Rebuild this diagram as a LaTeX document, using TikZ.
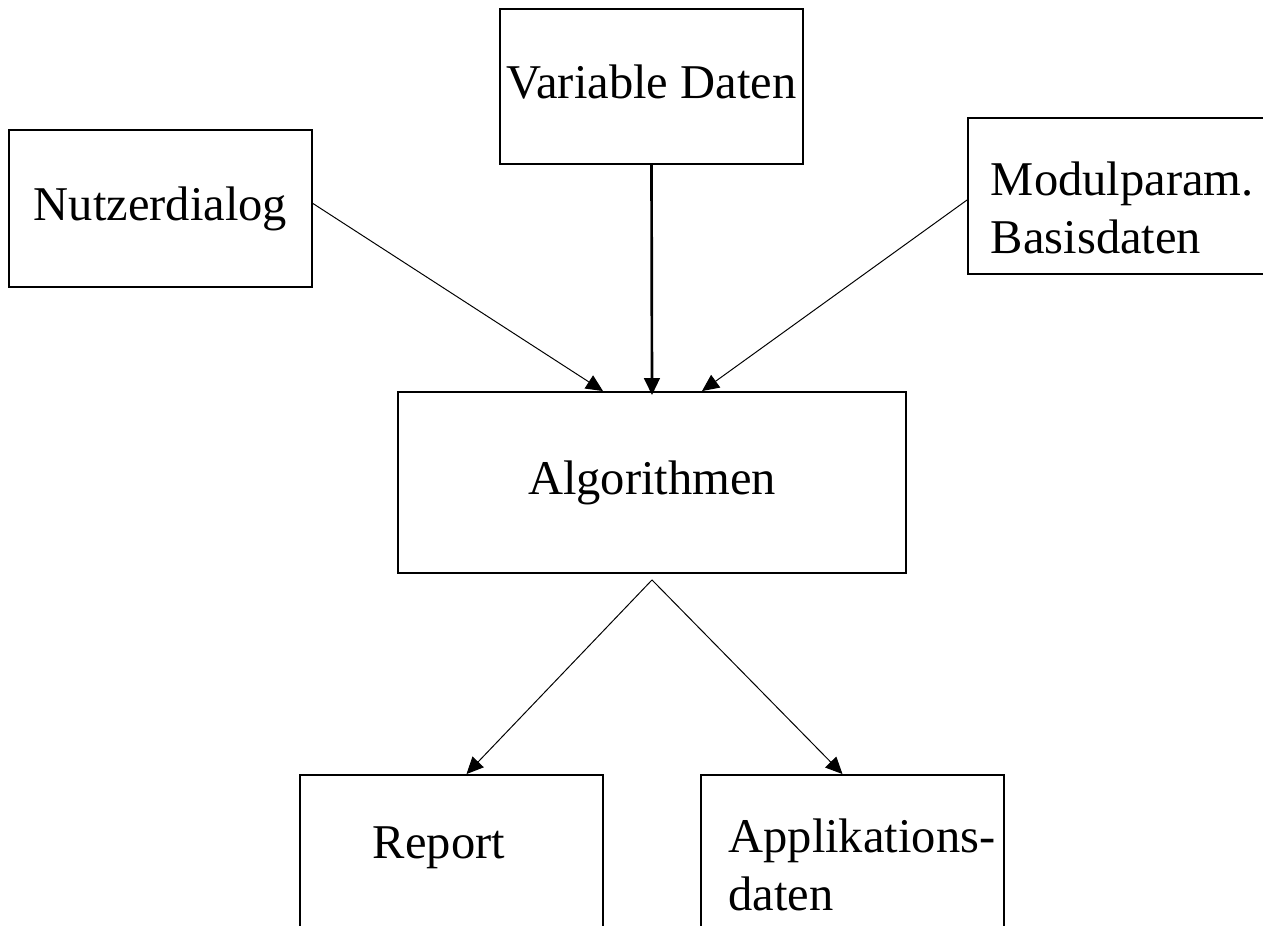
\documentclass[tikz,border=0pt]{standalone}
\usepackage{fontspec}
\setmainfont{Liberation Serif}
\usetikzlibrary{arrows.meta,calc}

\begin{document}
\begin{tikzpicture}[x=0.025cm,y=-0.025cm,
	box/.style={draw,line width=1.3pt,inner sep=0pt,minimum width=7.575cm,
		font=\fontsize{34.5}{41.3}\selectfont,text height=24pt,text depth=7.6pt},
	twoline/.style={box,align=left},
	flow/.style={-{Triangle[length=12pt,width=11pt]},line width=0.7pt},
	mainflow/.style={flow,line width=1.9pt}]
	\path[use as bounding box,clip] (0,0) rectangle (1263,926);
	
	%input boxes
	\node[box,minimum height=3.875cm] (varia)  at (651.5,86.5)  {Variable Daten};
	\node[box,minimum height=3.925cm] (nutzer) at (160.5,208.5) {Nutzerdialog};
	\node[twoline,text width=6.6cm,text depth=25.4pt,minimum width=7.75cm,minimum height=3.9cm] (modul) at (1123,196) {Modulparam.\\Basisdaten};
	
	%center box
	\node[box,minimum width=12.7cm,minimum height=4.525cm] (algo) at (652,482.5) {Algorithmen};
	
	%output boxes
	\node[twoline,text width=3.925cm,text depth=37.5pt,minimum height=4.625cm] (report) at (451.5,867.5) {Report};
	\node[twoline,text width=6.2cm,text depth=46pt,minimum height=4.625cm] (appl) at (852.5,867.5) {\mbox{Applikations-}\\daten};
	
	%arrows in
	\draw[flow] ($(nutzer.east)+(0,-5)$) -- ($(algo.north)+(-49,0)$);
	\draw[mainflow] (varia.south) -- ($(algo.north)+(0,4)$);
	\draw[flow] ($(modul.west)+(0,4)$) -- ($(algo.north)+(50,0)$);
	
	%arrows out
	\coordinate (fork) at ($(algo.south)+(0,6)$);
	\draw[flow] (fork) -- ($(report.north)+(15,0)$);
	\draw[flow] (fork) -- ($(appl.north)+(-10,0)$);
\end{tikzpicture}
\end{document}
